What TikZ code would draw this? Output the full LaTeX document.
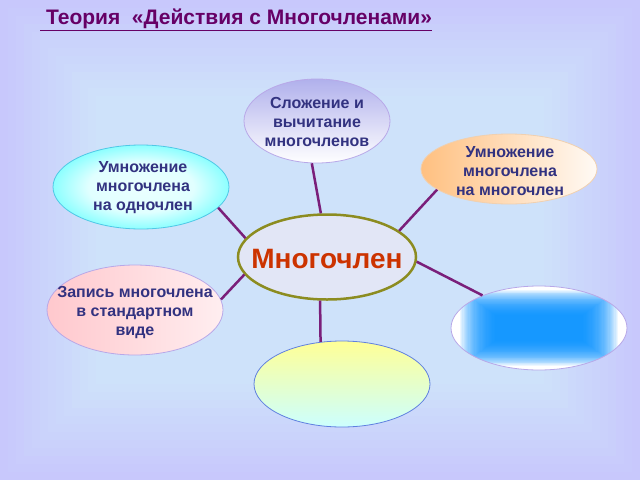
\documentclass[tikz,border=0pt]{standalone}
\usepackage{fontspec}
\setmainfont{Liberation Sans}
\usetikzlibrary{shapes.geometric}
\definecolor{bgOuter}{RGB}{200,200,252}
\definecolor{bgInner}{RGB}{206,226,250}
\definecolor{titleCol}{RGB}{102,0,102}
\definecolor{txtCol}{RGB}{50,50,128}
\definecolor{hubTxt}{RGB}{204,51,0}
\definecolor{linkCol}{RGB}{122,31,122}
\definecolor{hubBorder}{RGB}{140,140,32}
\definecolor{hubFill}{RGB}{226,230,246}
\definecolor{lavBorder}{RGB}{184,168,232}
\definecolor{cyanBorder}{RGB}{80,200,230}
\definecolor{rbBlue}{RGB}{0,145,255}
\pgfdeclareradialshading{cyanring}{\pgfpoint{0bp}{0bp}}{color(0bp)=(white!92!cyan); color(15bp)=(white!88!cyan); color(25bp)=(cyan!45!white); color(50bp)=(cyan!45!white)}
\begin{document}
\begin{tikzpicture}[x=1pt,y=-1pt,
  bubble/.style={ellipse, inner sep=0pt, line width=0.8pt},
  bubtext/.style={align=center, text=txtCol, font=\fontsize{16}{19}\selectfont\bfseries},
  link/.style={draw=linkCol, line width=2.5pt}]
\useasboundingbox (0,0) rectangle (640,480);
\foreach \i in {0,...,12}{
  \pgfmathtruncatemacro\p{100*\i/12}
  \pgfmathsetmacro\m{8*\i}
  \fill[bgInner!\p!bgOuter] (\m,\m) rectangle (640-\m,480-\m);
}
% title
\node[anchor=base west, inner sep=0pt, text=titleCol, font=\fontsize{21}{25}\selectfont\bfseries] (title) at (40,24) {\underline{\ Теория\ \ «Действия с Многочленами»}};
% bubbles
\node[bubble, minimum width=146pt, minimum height=84pt, draw=lavBorder, top color={rgb,255:red,176;green,176;blue,236}, bottom color=white] (add) at (317,121) {};
\node[bubble, minimum width=176pt, minimum height=84pt, draw=cyanBorder, shading=cyanring] (mono) at (141,187) {};
\node[bubble, minimum width=176pt, minimum height=70pt, draw={rgb,255:red,240;green,208;blue,176}, left color={rgb,255:red,255;green,192;blue,128}, right color={rgb,255:red,255;green,250;blue,245}] (poly) at (509,169) {};
\node[bubble, minimum width=176pt, minimum height=90pt, draw=lavBorder, left color={rgb,255:red,255;green,200;blue,205}, right color={rgb,255:red,255;green,238;blue,240}] (std) at (135,310) {};
\node[bubble, minimum width=176pt, minimum height=84pt, fill=white] (blue) at (539,328) {};
\begin{scope}
  \clip (539,328) ellipse [x radius=88pt, y radius=42pt];
  \foreach \k in {0,...,29}{
    \fill[rbBlue, fill opacity=0.07] (460+1.2*\k,290+0.85*\k) rectangle (618-1.2*\k,366-0.85*\k);
  }
\end{scope}
\draw[lavBorder, line width=0.8pt] (539,328) ellipse [x radius=88pt, y radius=42pt];
\node[bubble, minimum width=176pt, minimum height=86pt, draw={rgb,255:red,96;green,128;blue,224}, top color={rgb,255:red,255;green,255;blue,150}, bottom color={rgb,255:red,204;green,255;blue,255}] (yel) at (342,384) {};
\node[bubble, minimum width=178pt, minimum height=85pt, draw=hubBorder, line width=2.5pt, fill=hubFill] (hub) at (327,257) {};
% texts
\node[bubtext] (addT) at (317,122) {Сложение и\\вычитание\\многочленов};
\node[bubtext] (monoT) at (143,188) {Умножение\\многочлена\\на одночлен};
\node[bubtext] (polyT) at (510,171) {Умножение\\многочлена\\на многочлен};
\node[bubtext] (stdT) at (135,313) {Запись многочлена\\в стандартном\\виде};
\node[text=hubTxt, font=\fontsize{28}{32}\selectfont\bfseries] (hubT) at (327,259) {Многочлен};
% connectors
\draw[link] (hub.98) -- (add.-97);
\draw[link] (hub.167) -- (mono.-15);
\draw[link] (hub.20) -- (poly.196);
\draw[link] (hub.192) -- (std.7);
\draw[link] (hub.-3) -- (blue.150);
\draw[link] (hub.-99) -- (yel.117);
\end{tikzpicture}
\end{document}
